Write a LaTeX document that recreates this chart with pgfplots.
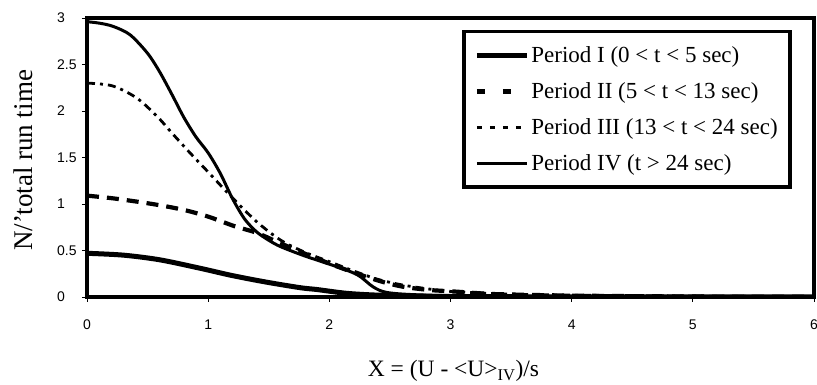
\documentclass[border=0pt]{standalone}
\usepackage{fontspec}
\setmainfont{Liberation Serif}
\newfontfamily\arial{Liberation Sans}
\usepackage{pgfplots}
\pgfplotsset{compat=1.18}
\pgfplotsset{
  legsolid/.style={legend image code/.code={\draw[##1] (0pt,0pt) -- (50pt,0pt);}},
  legtwo/.style={legend image code/.code={\draw[##1, dash pattern=on 8pt off 18pt] (0pt,0pt) -- (50pt,0pt);}},
  legthree/.style={legend image code/.code={\draw[##1, dash pattern=on 5pt off 8pt] (0pt,0pt) -- (50pt,0pt);}},
}
\begin{document}
\begin{tikzpicture}
\begin{axis}[
  at={(87pt,88pt)}, anchor=south west,
  scale only axis, width=727pt, height=279pt,
  xmin=0, xmax=6, ymin=0, ymax=3,
  xtick={0,1,2,3,4,5,6},
  ytick={0,0.5,1,1.5,2,2.5,3},
  xtick pos=bottom, ytick pos=left,
  tick align=outside,
  major tick length=5pt,
  tick style={black, line width=0.8pt},
  axis line style={line width=4.5pt},
  /pgf/number format/assume math mode=true,
  ticklabel style={font=\arial\fontsize{14}{15}\selectfont},
  xticklabel style={yshift=-14pt},
  yticklabel style={anchor=west, inner sep=0pt, xshift=-25pt},
  xlabel={X = (U - <U>\textsubscript{IV})/s},
  ylabel={N/'total run time},
  xlabel style={font=\fontsize{23.5}{25}\selectfont, at={(axis description cs:0.5,0)}, anchor=center, yshift=-74pt, xshift=3pt},
  ylabel style={font=\fontsize{27}{29}\selectfont, at={(axis description cs:0,0.5)}, anchor=center, yshift=64pt, xshift=-3pt},
  legend style={at={(axis description cs:0.516,0.957)}, anchor=north west,
    draw=black, line width=3.5pt, font=\fontsize{23}{25}\selectfont,
    row sep=14.5pt, inner xsep=10.5pt, inner ysep=13pt},
  legend cell align=left,
]
\addplot[black, line width=5pt, smooth, legsolid]
coordinates {(0,0.47) (0.3,0.45) (0.6,0.40) (0.93,0.31) (1.2,0.23) (1.48,0.16) (1.76,0.10) (1.9,0.08) (2.14,0.04) (2.4,0.02) (2.8,0.008) (3.5,0.003) (4.5,0.001) (6,0)};
\addlegendentry{Period I (0 < t < 5 sec)}
\addplot[black, line width=4.2pt, smooth, dash pattern=on 12pt off 8pt, legtwo]
coordinates {(0,1.09) (0.22,1.06) (0.44,1.02) (0.63,0.98) (0.82,0.93) (1.01,0.86) (1.22,0.76) (1.40,0.69) (1.61,0.57) (1.81,0.46) (2.02,0.35) (2.21,0.26) (2.42,0.17) (2.61,0.11) (2.83,0.075) (3.02,0.06) (3.24,0.04) (3.4,0.03) (4,0.015) (5,0.005) (6,0.002)};
\addlegendentry{Period II (5 < t < 13 sec)}
\addplot[black, line width=2.8pt, smooth, dash pattern=on 8pt off 5pt on 3pt off 5pt, legthree]
coordinates {(0,2.30) (0.21,2.27) (0.41,2.14) (0.58,1.94) (0.71,1.75) (0.85,1.55) (1.01,1.33) (1.19,1.08) (1.40,0.81) (1.6,0.61) (1.8,0.48) (2.0,0.38) (2.2,0.28) (2.4,0.19) (2.6,0.13) (2.8,0.09) (3.0,0.06) (3.5,0.03) (4,0.02) (5,0.01) (6,0.003)};
\addlegendentry{Period III (13 < t < 24 sec)}
\addplot[black, line width=3pt, smooth, legsolid]
coordinates {(0,2.96) (0.1,2.945) (0.215,2.91) (0.355,2.82) (0.5,2.62) (0.6,2.42) (0.7,2.18) (0.8,1.93) (0.9,1.72) (1.0,1.55) (1.1,1.33) (1.2,1.06) (1.3,0.84) (1.4,0.70) (1.5,0.61) (1.6,0.54) (1.8,0.44) (2.03,0.34) (2.23,0.24) (2.36,0.11) (2.47,0.05) (2.7,0.025) (3.2,0.01) (4,0.005) (6,0)};
\addlegendentry{Period IV (t > 24 sec)\rule[-20pt]{0pt}{20pt}}
\end{axis}
\pgfresetboundingbox
\path (0,0) rectangle (817pt,385pt);
\end{tikzpicture}
\end{document}
